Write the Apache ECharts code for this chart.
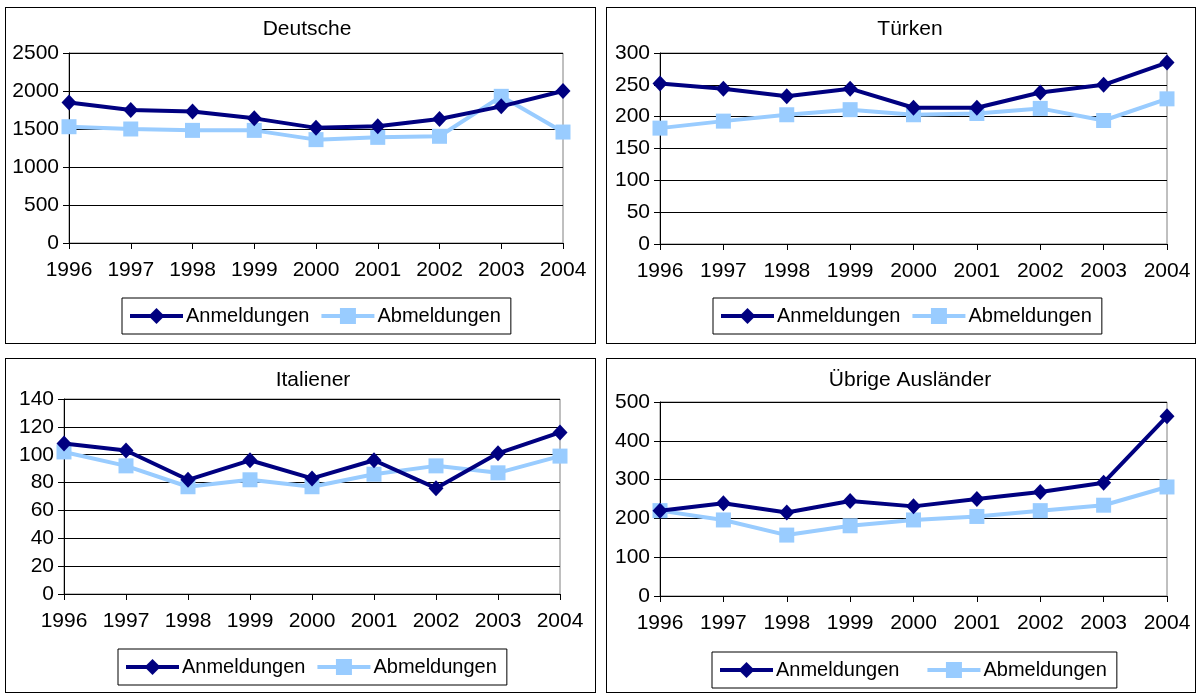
<!DOCTYPE html>
<html>
<head>
<meta charset="utf-8">
<script src="https://cdn.jsdelivr.net/npm/echarts@6/dist/echarts.min.js"></script>
<style>
  html, body { margin: 0; padding: 0; background: #fff; }
  body { width: 1200px; height: 695px; position: relative; overflow: hidden; }
  .panel { position: absolute; border: 1px solid #000; box-sizing: border-box; background: #fff; }
</style>
</head>
<body>
<div id="p1" class="panel" style="left:5px;top:7px;width:591px;height:337px;"></div>
<div id="p2" class="panel" style="left:606px;top:7px;width:590px;height:337px;"></div>
<div id="p3" class="panel" style="left:5px;top:358px;width:591px;height:335px;"></div>
<div id="p4" class="panel" style="left:606px;top:358px;width:590px;height:335px;"></div>
<script>
// ---- data ----
const years = ['1996', '1997', '1998', '1999', '2000', '2001', '2002', '2003', '2004'];
const seriesNames = ['Anmeldungen', 'Abmeldungen'];

const deutscheAn = [1850, 1750, 1730, 1640, 1515, 1535, 1632, 1798, 2000];
const deutscheAb = [1530, 1500, 1482, 1482, 1360, 1390, 1404, 1930, 1460];

const tuerkenAn = [252, 244, 232, 244, 214, 214, 238, 250, 285];
const tuerkenAb = [182, 193, 203, 211, 203, 205, 213, 194, 228];

const italienerAn = [108, 103, 82, 96, 83, 96, 76, 101, 116];
const italienerAb = [102, 92, 77, 82, 77, 86, 92, 87, 99];

const uebrigeAn = [220, 239, 215, 245, 231, 250, 268, 292, 463];
const uebrigeAb = [220, 196, 157, 181, 196, 205, 220, 234, 281];

const titles = ['Deutsche', 'Türken', 'Italiener', 'Übrige Ausländer'];

// ---- chart builder ----
const FONT = 'Liberation Sans, Arial, sans-serif';
const FS = 21;

function build(el, cfg) {
  const chart = echarts.init(document.getElementById(el), null, { renderer: 'canvas' });
  chart.setOption({
    animation: false,
    backgroundColor: '#fff',
    textStyle: { fontFamily: FONT, color: '#000' },
    title: {
      text: cfg.title,
      left: cfg.titleX, top: cfg.titleY,
      textAlign: 'center',
      textStyle: { fontFamily: FONT, fontSize: 21, fontWeight: 'normal', color: '#000' }
    },
    grid: {
      left: cfg.grid[0], top: cfg.grid[1], width: cfg.grid[2], height: cfg.grid[3],
      show: true, borderColor: '#808080', borderWidth: 1, backgroundColor: '#fff'
    },
    legend: {
      data: seriesNames,
      left: cfg.legendX, top: cfg.legendY,
      orient: 'horizontal',
      itemWidth: 53, itemHeight: 20, itemGap: cfg.legendGap,
      padding: [8, 10, 8, 6],
      borderColor: '#000', borderWidth: 1,
      lineStyle: { width: 4 },
      textStyle: { fontFamily: FONT, fontSize: 20, color: '#000', padding: [0, 0, 0, -2] }
    },
    xAxis: {
      type: 'category', data: years, boundaryGap: false,
      axisLine: { lineStyle: { color: '#000', width: 1 } },
      axisTick: { show: true, length: 6, lineStyle: { color: '#000' } },
      axisLabel: { fontFamily: FONT, fontSize: FS, color: '#000', margin: 17, interval: 0 },
      splitLine: { show: false }
    },
    yAxis: {
      type: 'value', min: 0, max: cfg.max, interval: cfg.interval,
      axisLine: { show: true, lineStyle: { color: '#000', width: 1 } },
      axisTick: { show: true, length: 6, lineStyle: { color: '#000' } },
      axisLabel: { fontFamily: FONT, fontSize: FS, color: '#000', margin: 10,
        formatter: function (v) { return String(v); } },
      splitLine: { show: true, lineStyle: { color: '#000', width: 1 } }
    },
    series: [
      {
        name: seriesNames[0], type: 'line', data: cfg.an,
        symbol: 'diamond', symbolSize: [15, 16],
        lineStyle: { color: '#000080', width: 4 },
        itemStyle: { color: '#000080' }, z: 3
      },
      {
        name: seriesNames[1], type: 'line', data: cfg.ab,
        symbol: 'rect', symbolSize: 15,
        lineStyle: { color: '#99CCFF', width: 4 },
        itemStyle: { color: '#99CCFF' }, z: 2
      }
    ]
  });
}

build('p1', { title: titles[0], titleX: 296, titleY: 6, grid: [63, 45, 494, 190], max: 2500, interval: 500,
  an: deutscheAn, ab: deutscheAb, legendX: 116, legendY: 290, legendGap: 10 });
build('p2', { title: titles[1], titleX: 298, titleY: 6, grid: [53, 45, 507, 191], max: 300, interval: 50,
  an: tuerkenAn, ab: tuerkenAb, legendX: 106, legendY: 290, legendGap: 10 });
build('p3', { title: titles[2], titleX: 302, titleY: 6, grid: [58, 40, 496, 195], max: 140, interval: 20,
  an: italienerAn, ab: italienerAb, legendX: 112, legendY: 290, legendGap: 10 });
build('p4', { title: titles[3], titleX: 298, titleY: 6, grid: [53, 43, 507, 194], max: 500, interval: 100,
  an: uebrigeAn, ab: uebrigeAb, legendX: 105, legendY: 293, legendGap: 26 });
</script>
</body>
</html>
